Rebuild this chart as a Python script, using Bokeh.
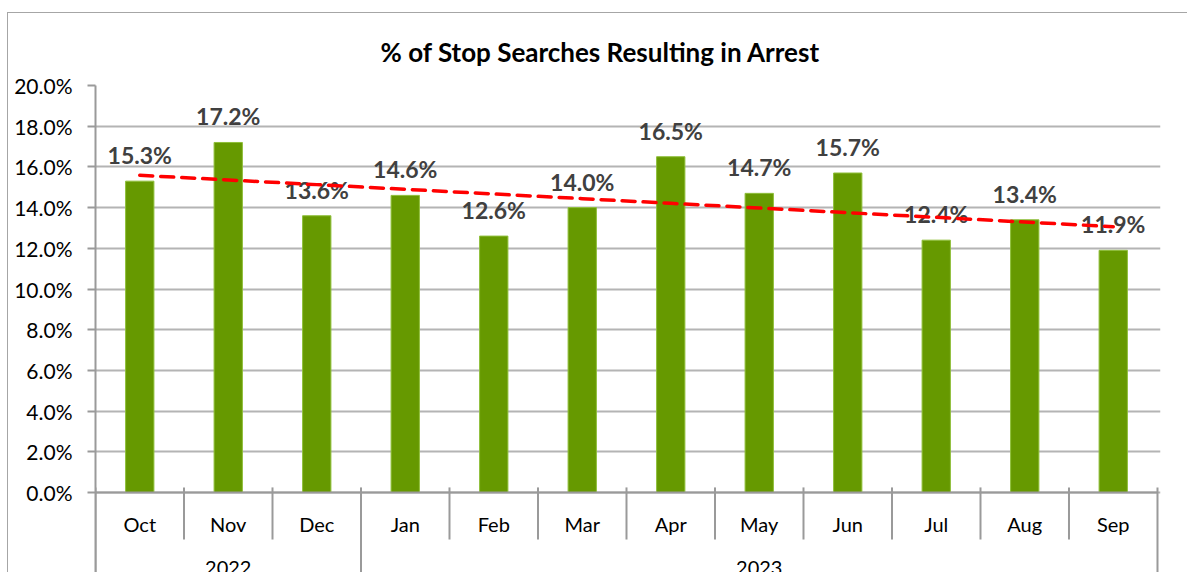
import numpy as np
from bokeh.plotting import figure
from bokeh.models import Range1d, FixedTicker, NumeralTickFormatter, ColumnDataSource
from bokeh.core.properties import value
from bokeh.embed import file_html
from bokeh.resources import INLINE

# ---- data ----
months = ["Oct", "Nov", "Dec", "Jan", "Feb", "Mar", "Apr", "May", "Jun", "Jul", "Aug", "Sep"]
years = ["2022", "2022", "2022", "2023", "2023", "2023", "2023", "2023", "2023", "2023", "2023", "2023"]
arrest_rate = [0.153, 0.172, 0.136, 0.146, 0.126, 0.140, 0.165, 0.147, 0.157, 0.124, 0.134, 0.119]
y_ticks = [0.0, 0.02, 0.04, 0.06, 0.08, 0.10, 0.12, 0.14, 0.16, 0.18, 0.20]
title_text = "% of Stop Searches Resulting in Arrest"

FONT = value("Lato")
n = len(months)
idx = list(range(n))

Y_BOTTOM = -0.0398
p = figure(width=1180, height=560,
           x_range=Range1d(-0.5, n - 0.5 + 0.034), y_range=Range1d(Y_BOTTOM, y_ticks[-1]),
           output_backend="svg", toolbar_location=None, x_axis_location=None,
           min_border_left=87, min_border_right=28, min_border_top=72, min_border_bottom=0,
           title=title_text,
           styles={"border-left": "1px solid #a6a6a6", "border-top": "1px solid #a6a6a6",
                   "margin-left": "7px", "margin-top": "12px"})
p.outline_line_color = None
p.background_fill_color = "white"
p.border_fill_color = "white"

# title
p.title.text_font = "Lato"
p.title.text_font_size = "26px"
p.title.text_font_style = "bold"
p.title.text_color = "black"
p.title.align = "left"
p.title.offset = 285
p.title.standoff = 35

# y axis
ya = p.yaxis[0]
ya.ticker = FixedTicker(ticks=y_ticks)
ya.formatter = NumeralTickFormatter(format="0.0%")
ya.major_tick_out = 8
ya.major_tick_in = 0
ya.minor_tick_line_color = None
ya.axis_line_color = "#9a9a9a"
ya.axis_line_width = 2
ya.major_tick_line_color = "#9a9a9a"
ya.major_tick_line_width = 2
ya.major_label_standoff = 15
ya.major_label_text_font = "Lato"
ya.major_label_text_font_size = "21px"
ya.major_label_text_color = "black"

p.xgrid.visible = False
p.ygrid.grid_line_color = "#b4b4b4"
p.ygrid.grid_line_width = 2

# bars
src = ColumnDataSource(dict(x=idx, top=arrest_rate,
                            label=[f"{v * 100:.1f}%" for v in arrest_rate]))
p.vbar(x="x", top="top", bottom=0, width=0.32, source=src,
       fill_color="#669900", line_color="#8fbf3a", line_width=1)

# category axis: baseline, separators, labels
p.segment(x0=[-0.5], x1=[n - 0.5], y0=[0], y1=[0], line_color="#9a9a9a", line_width=2)
bx, by0, by1 = [], [], []
for b in range(n + 1):
    is_year_edge = b == 0 or b == n or years[b] != years[b - 1]
    bx.append(b - 0.5)
    by0.append(0.0025)
    by1.append(Y_BOTTOM - 0.01 if is_year_edge else -0.0231)
p.segment(x0=bx, x1=bx, y0=by0, y1=by1, line_color="#9a9a9a", line_width=2)

p.text(x=idx, y=[-0.0153] * n, text=months, text_align="center", text_baseline="middle",
       text_font=FONT, text_font_size="20px", text_color="black")

year_names, year_centers = [], []
for yname in dict.fromkeys(years):
    pos = [i for i, yy in enumerate(years) if yy == yname]
    year_names.append(yname)
    year_centers.append((pos[0] + pos[-1]) / 2)
p.text(x=year_centers, y=[-0.0373] * len(year_names), text=year_names,
       text_align="center", text_baseline="middle",
       text_font=FONT, text_font_size="20px", text_color="black")

# data labels
p.text(x="x", y="top", text="label", source=src, text_align="center", text_baseline="middle",
       y_offset=-26, text_font=FONT, text_font_size="23px", text_font_style="bold",
       text_color="#404040")

# linear trend line
coef = np.polyfit(idx, arrest_rate, 1)
trend = np.polyval(coef, idx)
p.line(x=idx, y=trend, line_color="#ff0000", line_width=3.5, line_dash="13 8", line_cap="round")

open("out.html", "w").write(file_html(p, INLINE))
